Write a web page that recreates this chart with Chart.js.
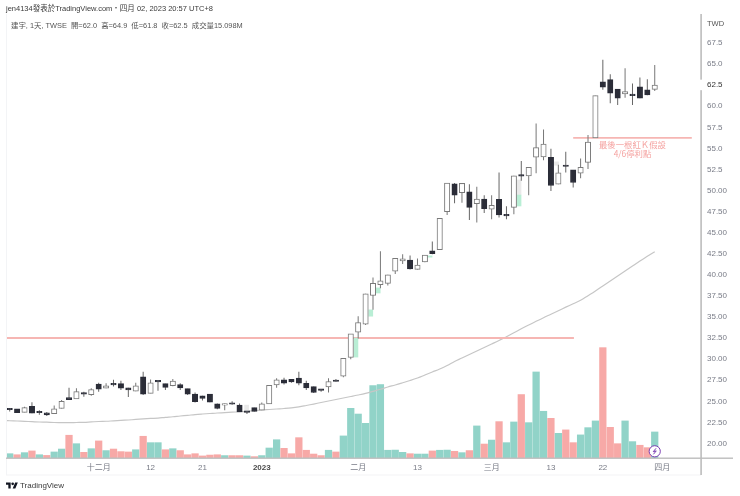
<!DOCTYPE html>
<html>
<head>
<meta charset="utf-8">
<script src="https://cdn.jsdelivr.net/npm/chart.js@4"></script>
<style>
html, body { margin: 0; padding: 0; background: #fff; }
body { width: 740px; height: 496px; position: relative; overflow: hidden; font-family: "Liberation Sans", "Noto Sans CJK TC", sans-serif; }
canvas { position: absolute; left: 0; top: 0; }
.txt { position: absolute; white-space: pre; line-height: 12px; }
</style>
</head>
<body>
<canvas id="myChart" width="740" height="496"></canvas>
<div class="txt" style="left:6px;top:3px;font-size:7.5px;color:#3a3a3a;">jen4134發表於TradingView.com・四月 02, 2023 20:57 UTC+8</div>
<div class="txt" style="left:11px;top:20px;font-size:7.4px;color:#555;">建宇, 1天, TWSE  開=62.0  高=64.9  低=61.8  收=62.5  成交量15.098M</div>
<div class="txt" style="left:707px;top:18px;font-size:7.5px;color:#555;">TWD</div>
<svg style="position:absolute;left:6px;top:482px;" width="12" height="7" viewBox="0 4 36 18"><path fill="#131722" d="M14 22H7V11H0V4h14v18zM28 22h-8l7.5-18h8L28 22z"/><circle fill="#131722" cx="20" cy="8" r="4"/></svg>
<div class="txt" style="left:20px;top:480px;font-size:8px;color:#3a3a3a;">TradingView</div>
<script>
var candleOpen = [24.05,24.1,23.7,24.4,23.75,23.65,23.55,24.15,25.45,25.3,26.0,25.8,27.05,26.55,27.1,27.1,26.6,26.2,27.9,25.95,27.4,27.1,26.85,27.0,26.5,25.85,25.65,25.85,24.7,24.55,24.75,24.55,23.75,24.25,23.95,24.7,26.95,27.55,27.6,27.75,27.15,26.75,26.4,26.7,27.5,28.0,30.2,33.2,34.15,37.55,38.85,39.0,40.45,41.65,41.75,40.65,41.55,42.85,43.0,47.5,50.8,49.75,49.85,48.45,49.0,47.8,48.95,47.1,48.0,51.9,51.75,53.95,54.0,53.95,50.75,52.95,52.45,52.05,53.35,56.25,62.9,63.15,62.05,61.45,61.35,62.3,61.95,62.0];
var candleHigh = [24.2,24.1,24.35,24.9,23.95,23.75,24.5,25.15,26.6,26.55,26.15,26.55,27.2,27.15,27.55,27.45,26.6,27.2,28.5,27.6,27.45,27.1,27.65,27.15,26.5,26.05,25.65,25.85,24.75,24.75,25.0,24.75,23.75,24.25,24.85,26.9,27.75,27.8,27.6,28.5,27.45,26.75,26.4,27.75,27.65,30.1,33.0,35.1,37.75,39.7,42.8,40.0,41.95,42.45,42.3,41.95,42.35,43.95,46.7,50.9,50.9,50.85,50.75,50.45,49.45,49.45,52.15,48.15,51.75,53.5,52.75,57.95,57.25,54.95,53.05,54.6,52.45,53.8,56.6,61.25,65.5,63.8,62.05,64.5,62.7,63.4,63.2,64.9];
var candleLow = [23.8,23.65,23.7,23.6,23.4,23.25,23.55,24.15,25.2,25.3,25.55,25.65,26.15,26.55,26.75,26.35,25.5,26.2,25.75,25.95,26.25,26.35,26.8,26.35,25.75,24.85,25.1,24.9,24.05,23.95,24.6,23.75,23.5,23.8,23.95,24.7,26.6,27.0,27.2,26.9,26.35,26.0,26.15,26.05,27.35,27.85,30.0,32.45,34.05,35.85,38.4,38.75,40.1,41.3,40.65,40.65,41.5,42.45,43.0,47.1,48.5,48.55,46.5,46.2,47.35,46.6,46.8,46.6,47.2,51.15,49.45,52.05,53.6,49.95,50.75,52.15,50.35,51.45,52.55,56.25,61.95,60.35,60.15,61.0,60.15,60.95,61.3,61.8];
var candleClose = [24.0,23.65,24.25,23.6,23.65,23.4,24.1,25.0,25.2,26.15,25.85,26.4,26.45,26.85,26.95,26.55,26.35,26.85,25.85,27.2,27.3,26.65,27.4,26.6,25.85,24.95,25.35,24.9,24.15,24.7,24.65,23.75,23.7,23.8,24.7,26.9,27.55,27.15,27.3,27.15,26.6,26.05,26.3,27.35,27.35,30.1,33.0,34.35,37.75,39.0,39.3,40.0,41.95,41.9,40.7,41.15,42.35,42.5,46.7,50.9,49.45,50.85,48.0,49.0,47.85,48.25,47.1,47.0,51.75,51.7,52.75,55.1,55.5,50.6,52.1,52.85,50.95,52.75,55.75,61.25,62.25,61.55,60.95,61.75,61.25,60.95,61.35,62.5];
var volumeData = [2.5,1.9,3.1,4.1,1.9,1.5,3.5,5.2,13.2,8.3,3.3,5.4,9.9,4.3,5.2,3.7,3.5,4.8,12.6,8.9,8.9,4.8,5.4,4.3,1.9,2.5,1.2,1.7,1.9,1.4,1.4,1.4,1.2,0.8,1.4,5.8,10.6,5.6,2.5,11.8,4.5,2.3,1.4,4.5,3.5,12.8,28.8,25.5,20.1,42.0,42.6,4.5,4.6,3.3,2.5,2.3,2.3,4.1,4.5,4.6,3.9,3.1,4.3,18.6,8.1,10.4,21.1,8.9,20.9,36.8,20.5,49.9,27.1,23.0,14.3,16.3,8.9,13.4,17.6,21.5,64.0,17.8,8.3,21.5,9.5,7.4,6.0,15.098];
var volumeUp = [1,0,1,0,1,0,1,1,0,1,0,1,0,1,0,0,0,1,0,1,1,0,1,0,0,0,0,0,0,1,0,0,1,0,1,1,1,0,0,0,0,0,0,1,0,1,1,1,1,1,1,1,1,1,0,1,1,0,1,1,0,1,0,1,0,1,0,1,1,0,1,1,1,0,1,0,0,1,1,1,0,0,0,1,1,0,0,1];
var maData = [22.70,22.67,22.63,22.59,22.55,22.53,22.49,22.48,22.47,22.49,22.51,22.56,22.61,22.64,22.69,22.74,22.79,22.85,22.91,22.97,23.02,23.10,23.17,23.26,23.34,23.43,23.50,23.56,23.62,23.66,23.71,23.76,23.81,23.89,23.97,24.03,24.09,24.15,24.23,24.35,24.51,24.68,24.86,25.04,25.22,25.40,25.57,25.75,25.95,26.19,26.43,26.70,26.94,27.20,27.47,27.77,28.12,28.48,28.84,29.25,29.73,30.14,30.56,30.97,31.39,31.80,32.22,32.67,33.13,33.60,34.05,34.49,34.92,35.33,35.75,36.17,36.58,36.98,37.53,38.09,38.68,39.27,39.87,40.46,41.05,41.64,42.20,42.75];
var maStart = 22.72;

// pale leftovers sitting next to some candles in the picture
var greenGhostAt = [46.7,48.7,49.7,56.7,68.7];
var greenGhostLow = [30.25,35.1,37.85,42.1,48.17];
var greenGhostHigh = [32.5,35.85,38.45,42.25,49.47];
var grayGhostAt = [31.95,68.7,73.75];
var grayGhostLow = [23.75,49.47,53.0];
var grayGhostHigh = [24.55,51.25,53.4];

var supportLevel = 32.5;
var supportEnd = 76.1;
var stopLevel = 56.25;
var stopStart = 76;
var stopEnd = 92;
var noteLines = ['最後一根紅Ｋ假設', '4/6停利點'];
var noteAt = 84;
var notePrices = [55.4, 54.3];

var xTickAt = [12,19,26,34,47,55,65,73,80,88];
var xTickLabels = ['十二月','12','21','2023','二月','13','三月','13','22','四月'];
var yTickAt = [67.5,65,62.5,60,57.5,55,52.5,50,47.5,45,42.5,40,37.5,35,32.5,30,27.5,25,22.5,20];
var yTickLabels = ['67.5','65.0','62.5','60.0','57.5','55.0','52.5','50.00','47.50','45.00','42.50','40.00','37.50','35.00','32.50','30.00','27.50','25.00','22.50','20.00'];

var tickFont = '"Liberation Sans", "Noto Sans CJK TC", sans-serif';
var lastClose = candleClose[candleClose.length - 1];

var overlay = {
  id: 'overlay',
  afterDatasetsDraw: function (chart) {
    var c = chart.ctx;
    var area = chart.chartArea;
    var xs = chart.scales.x;
    var ys = chart.scales.y;
    var lastY = ys.getPixelForValue(lastClose);

    c.save();
    // faint outer frame
    c.fillStyle = '#f3f4f6';
    c.fillRect(area.left, 14, 1, 461);
    c.fillRect(area.left, 474.5, 695, 1);

    // axis lines, price axis has a gap around the last price
    c.fillStyle = '#bdbdbd';
    c.fillRect(area.left, area.bottom - 0.5, 727, 1.4);
    c.fillRect(area.right - 0.7, 14, 1.6, lastY - 5.5 - 14);
    c.fillRect(area.right - 0.7, lastY + 5, 1.6, 475 - lastY - 5);

    // note under the stop line
    c.fillStyle = '#f5a3a1';
    c.font = '8.4px "Noto Sans CJK TC", sans-serif';
    c.textAlign = 'center';
    c.textBaseline = 'middle';
    noteLines.forEach(function (t, i) {
      c.fillText(t, xs.getPixelForValue(noteAt), ys.getPixelForValue(notePrices[i]));
    });

    // lightning badge under the last volume bar
    var bx = xs.getPixelForValue(candleClose.length - 1);
    var by = area.bottom - 6.7;
    c.beginPath();
    c.arc(bx, by, 5.6, 0, Math.PI * 2);
    c.fillStyle = '#fff';
    c.fill();
    c.lineWidth = 1;
    c.strokeStyle = '#7b3fb3';
    c.stroke();
    c.beginPath();
    c.moveTo(bx + 1.3, by - 3);
    c.lineTo(bx - 1.5, by + 0.4);
    c.lineTo(bx + 1.5, by - 0.4);
    c.lineTo(bx - 1.3, by + 3);
    c.stroke();
    c.restore();
  }
};

var chart = new Chart(document.getElementById('myChart'), {
  type: 'bar',
  data: {
    datasets: [
      {
        label: 'volume',
        yAxisID: 'vol',
        order: 9,
        data: volumeData.map(function (v, i) { return { x: i, y: v }; }),
        backgroundColor: volumeUp.map(function (u) { return u ? '#91d3c8' : '#f7a9a7'; }),
        barThickness: 6.6
      },
      {
        type: 'line',
        label: 'ma',
        order: 8,
        data: [{ x: -0.5, y: maStart }].concat(maData.map(function (v, i) { return { x: i, y: v }; })),
        borderColor: '#c6c6c6',
        borderWidth: 1.2,
        pointRadius: 0,
        tension: 0.4
      },
      {
        type: 'line',
        label: 'support',
        order: 7,
        data: [{ x: -0.5, y: supportLevel }, { x: supportEnd, y: supportLevel }],
        borderColor: '#f6b6b3',
        borderWidth: 2,
        pointRadius: 0
      },
      {
        type: 'line',
        label: 'stop',
        order: 7,
        data: [{ x: stopStart, y: stopLevel }, { x: stopEnd, y: stopLevel }],
        borderColor: '#f6b6b3',
        borderWidth: 1.6,
        pointRadius: 0
      },
      {
        label: 'ghost green',
        order: 6,
        data: greenGhostAt.map(function (x, i) { return { x: x, y: [greenGhostLow[i], greenGhostHigh[i]] }; }),
        backgroundColor: '#b9eed5',
        barThickness: 4
      },
      {
        label: 'ghost gray',
        order: 6,
        data: grayGhostAt.map(function (x, i) { return { x: x, y: [grayGhostLow[i], grayGhostHigh[i]] }; }),
        backgroundColor: '#e9e9e9',
        barThickness: 4
      },
      {
        label: 'wick',
        order: 5,
        data: candleLow.map(function (v, i) { return { x: i, y: [v, candleHigh[i]] }; }),
        backgroundColor: candleOpen.map(function (o, i) { return candleClose[i] >= o ? '#777777' : '#666666'; }),
        barThickness: 1,
        inflateAmount: 0
      },
      {
        label: 'body',
        order: 4,
        data: candleOpen.map(function (o, i) { return { x: i, y: [o, candleClose[i]] }; }),
        backgroundColor: candleOpen.map(function (o, i) { return candleClose[i] >= o ? '#ffffff' : '#2b2d38'; }),
        borderColor: candleOpen.map(function (o, i) { return candleClose[i] >= o ? '#7a7a7a' : '#2b2d38'; }),
        borderWidth: 1,
        borderSkipped: false,
        barThickness: 5.4,
        minBarLength: 1.5
      }
    ]
  },
  options: {
    responsive: false,
    animation: false,
    devicePixelRatio: 1,
    layout: { padding: { left: 6, top: 14, right: 0, bottom: 0 } },
    datasets: { bar: { grouped: false } },
    plugins: {
      legend: { display: false },
      tooltip: { enabled: false }
    },
    scales: {
      x: {
        type: 'linear',
        offset: false,
        min: -0.5,
        max: 93.24,
        grid: { display: false, drawTicks: false },
        border: { display: false },
        afterBuildTicks: function (scale) {
          scale.ticks = xTickAt.map(function (v) { return { value: v }; });
        },
        afterFit: function (scale) { scale.height = 38; },
        ticks: {
          autoSkip: false,
          maxRotation: 0,
          padding: 5,
          color: function (ctx) { return ctx.index === 3 ? '#4a4a4a' : '#787b86'; },
          font: function (ctx) {
            return { family: tickFont, size: 8, weight: ctx.index === 3 ? 'bold' : 'normal' };
          },
          callback: function (v, i) { return xTickLabels[i]; }
        }
      },
      y: {
        type: 'linear',
        position: 'right',
        min: 18.28,
        max: 70.94,
        grid: { display: false, drawTicks: false },
        border: { display: false },
        afterBuildTicks: function (scale) {
          scale.ticks = yTickAt.map(function (v) { return { value: v }; });
        },
        afterFit: function (scale) { scale.width = 39; },
        ticks: {
          autoSkip: false,
          padding: 6,
          color: function (ctx) { return ctx.index === 2 ? '#333333' : '#787b86'; },
          font: { family: tickFont, size: 8 },
          callback: function (v, i) { return yTickLabels[i]; }
        }
      },
      vol: {
        type: 'linear',
        display: false,
        min: 0,
        max: 257.5
      }
    }
  },
  plugins: [overlay]
});
</script>
</body>
</html>
